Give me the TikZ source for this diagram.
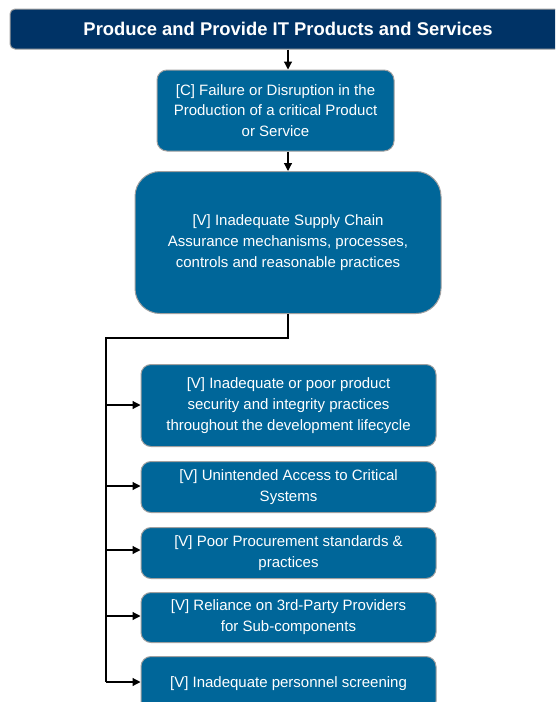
\documentclass[tikz,border=0pt]{standalone}
\usepackage{fontspec}
\setmainfont{Liberation Sans}
\usetikzlibrary{arrows.meta, positioning, calc}

\definecolor{navy}{RGB}{0,51,102}
\definecolor{riskblue}{RGB}{0,102,153}
\definecolor{edgegrey}{RGB}{160,160,160}

\begin{document}
\begin{tikzpicture}[x=1pt, y=-1pt,
    hdrbox/.style={fill=navy, draw=edgegrey, line width=1pt, rounded corners=5pt, text=white, font=\fontsize{18.4}{20}\selectfont\bfseries, minimum width=556pt, minimum height=40pt, inner sep=0pt},
    riskbox/.style={fill=riskblue, draw=edgegrey, line width=1pt, rounded corners=10pt, text=white, align=center, font=\fontsize{15}{20.8}\selectfont, inner sep=0pt},
    link/.style={-{Triangle[length=8pt, width=8pt]}, line width=1.2pt},
    trunk/.style={line width=2.5pt}]
        \clip (0,0) rectangle (555,702);

        % Top level
        \node[hdrbox] (hdr) at (288,29) {Produce and Provide IT Products and Services};

        % Consequence
        \node[riskbox, minimum width=237pt, minimum height=81pt] (cfail) at (275.5,110.5) {[C] Failure or Disruption in the\\Production of a critical Product\\or Service};

        % Main vulnerability
        \node[riskbox, minimum width=306pt, minimum height=142pt, rounded corners=25pt] (vsc) at (288,242.5) {[V] Inadequate Supply Chain\\Assurance mechanisms, processes,\\controls and reasonable practices};

        % Contributing vulnerabilities
        \node[riskbox, minimum width=295pt, minimum height=82pt] (vdev) at (288.5,405.5) {[V] Inadequate or poor product\\security and integrity practices\\throughout the development lifecycle};
        \node[riskbox, minimum width=295pt, minimum height=51pt] (vacc) at (288.5,487) {[V] Unintended Access to Critical\\Systems};
        \node[riskbox, minimum width=295pt, minimum height=51pt] (vproc) at (288.5,553) {[V] Poor Procurement standards \&\\practices};
        \node[riskbox, minimum width=295pt, minimum height=50pt] (vthird) at (288.5,617.5) {[V] Reliance on 3rd-Party Providers\\for Sub-components};
        \node[riskbox, minimum width=295pt, minimum height=55pt] (vpers) at (288.5,684) {[V] Inadequate personnel screening};

        % Connectors
        \draw[link] (hdr.south -| vsc.north) -- (cfail.north -| vsc.north);
        \draw[link] (cfail.south -| vsc.north) -- (vsc.north);

        \coordinate (bend) at (106,338);
        \draw[trunk] (vsc.south) |- (bend) -- (106,682);
        \foreach \b/\y in {vdev/405, vacc/486, vproc/550, vthird/616, vpers/682}
            \draw[link] (106,\y) -- (\b.west |- 0,\y);
\end{tikzpicture}
\end{document}
